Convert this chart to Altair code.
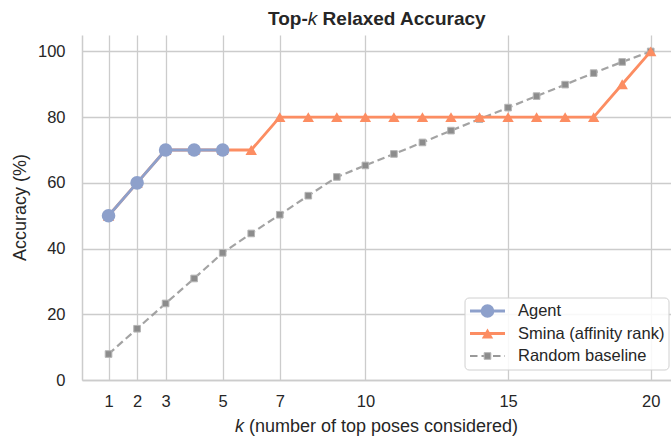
import altair as alt
import pandas as pd

# ---------------- data ----------------
K = list(range(1, 21))
AGENT_K = [1, 2, 3, 4, 5]
AGENT_ACC = [50, 60, 70, 70, 70]
SMINA_ACC = [50, 60, 70, 70, 70, 70, 80, 80, 80, 80, 80, 80, 80, 80, 80, 80, 80, 80, 90, 100]
RANDOM_ACC = [7.9, 15.6, 23.3, 30.9, 38.7, 44.6, 50.3, 56.1, 61.8, 65.3,
              68.8, 72.3, 75.9, 79.4, 82.9, 86.4, 89.9, 93.4, 96.8, 100]
X_TICKS = [1, 2, 3, 5, 7, 10, 15, 20]
Y_TICKS = [0, 20, 40, 60, 80, 100]
SERIES = ["Agent", "Smina (affinity rank)", "Random baseline"]
TITLE_PARTS = ["Top-", "k", "Relaxed Accuracy"]
XTITLE_PARTS = ["k", "(number of top poses considered)"]

# ---------------- style ----------------
FONT = "Liberation Sans, Arial, Helvetica, sans-serif"
TXT = "#262626"
GRID = "#cccccc"
C_AGENT = "#8DA0CB"
C_SMINA = "#FC8D62"
C_RAND = "#999999"
W, H = 589, 345

agent_df = pd.DataFrame({"k": AGENT_K, "acc": AGENT_ACC})
smina_df = pd.DataFrame({"k": K, "acc": SMINA_ACC})
rand_df = pd.DataFrame({"k": K, "acc": RANDOM_ACC})

xs = alt.Scale(domain=[0.07, 20.71], nice=False, zero=False)
ys = alt.Scale(domain=[0, 105], nice=False, zero=False)

X = alt.X("k:Q", scale=xs, axis=alt.Axis(
    values=X_TICKS, title=None, grid=True, gridColor=GRID, gridWidth=1.3,
    domainColor=GRID, domainWidth=1.5, ticks=False, labelPadding=13,
    labelFontSize=16.5, labelColor=TXT, labelFont=FONT, labelFlush=False))
Y = alt.Y("acc:Q", scale=ys, axis=alt.Axis(
    values=Y_TICKS, title="Accuracy (%)", grid=True, gridColor=GRID, gridWidth=1.3,
    domainColor=GRID, domainWidth=1.5, ticks=False, labelPadding=17,
    labelFontSize=16.5, labelColor=TXT, labelFont=FONT, labelFlush=False,
    titleFontSize=18, titleFont=FONT, titleColor=TXT, titleFontWeight="normal",
    titleX=-62, titleY=172, titleAngle=270, titleAlign="center", titleBaseline="middle"))

rand_line = alt.Chart(rand_df).mark_line(strokeWidth=2.2, strokeDash=[7.5, 4], opacity=0.9).encode(
    x=X, y=Y, color=alt.value(C_RAND))
rand_pts = alt.Chart(rand_df).mark_point(filled=True, shape="square", size=44, opacity=1,
                                         stroke="#b5b5b5", strokeWidth=1).encode(
    x=X, y=Y, fill=alt.value("#8c8c8c"))
smina_line = alt.Chart(smina_df).mark_line(strokeWidth=2.8).encode(x=X, y=Y, color=alt.value(C_SMINA))
smina_pts = alt.Chart(smina_df).mark_point(filled=True, shape="triangle-up", size=130, opacity=1).encode(
    x=X, y=Y, color=alt.value(C_SMINA))
agent_line = alt.Chart(agent_df).mark_line(strokeWidth=2.8).encode(x=X, y=Y, color=alt.value(C_AGENT))
agent_pts = alt.Chart(agent_df).mark_point(filled=True, shape="circle", size=185, opacity=1).encode(
    x=X, y=Y, color=alt.value(C_AGENT))

layers = [rand_line, rand_pts, smina_line, smina_pts, agent_line, agent_pts]

# ---------------- title (with italic k) ----------------
TFS = 19
title_specs = [
    (TITLE_PARTS[0], 225.8, "right", "bold", "normal"),
    (TITLE_PARTS[1], 225.8, "left", "normal", "italic"),
    (TITLE_PARTS[2], 240.6, "left", "bold", "normal"),
]
for txt, xp, al, fw, fs in title_specs:
    layers.append(alt.Chart(alt.Data(values=[{"t": txt}])).mark_text(
        align=al, baseline="alphabetic", fontSize=TFS, font=FONT, fontWeight=fw,
        fontStyle=fs, color=TXT).encode(x=alt.value(xp), y=alt.value(-10), text="t:N"))

# x axis title with italic k
xt_specs = [
    (XTITLE_PARTS[0], 152.9, "italic"),
    (XTITLE_PARTS[1], 166.9, "normal"),
]
for txt, xp, fs in xt_specs:
    layers.append(alt.Chart(alt.Data(values=[{"t": txt}])).mark_text(
        align="left", baseline="alphabetic", fontSize=18, font=FONT,
        fontStyle=fs, color=TXT).encode(x=alt.value(xp), y=alt.value(397), text="t:N"))

# ---------------- legend ----------------
layers.append(alt.Chart(alt.Data(values=[{"t": "legend"}])).mark_rect(
    fill="white", fillOpacity=0.85, stroke="#d0d0d0", strokeWidth=1, cornerRadius=4).encode(
    x=alt.value(383), x2=alt.value(587), y=alt.value(263), y2=alt.value(335)))

leg_rows = [
    (SERIES[0], 276, C_AGENT, "circle", 185, None, 2.8),
    (SERIES[1], 298.5, C_SMINA, "triangle-up", 130, None, 2.8),
    (SERIES[2], 321, C_RAND, "square", 44, [7.5, 4], 2.2),
]
for lab, ry, col, shp, sz, dash, sw in leg_rows:
    d = alt.Data(values=[{"t": lab}])
    rule_kw = dict(strokeWidth=sw, color=col)
    if dash:
        rule_kw["strokeDash"] = dash
    layers.append(alt.Chart(d).mark_rule(**rule_kw).encode(
        x=alt.value(388), x2=alt.value(423), y=alt.value(ry)))
    pt_kw = dict(filled=True, shape=shp, size=sz, opacity=1)
    if shp == "square":
        pt_kw.update(stroke="#b5b5b5", strokeWidth=1, fill="#8c8c8c")
    else:
        pt_kw.update(fill=col)
    layers.append(alt.Chart(d).mark_point(**pt_kw).encode(x=alt.value(405.5), y=alt.value(ry)))
    layers.append(alt.Chart(d).mark_text(align="left", baseline="middle", fontSize=16.5,
                                         font=FONT, color=TXT).encode(
        x=alt.value(436), y=alt.value(ry), text="t:N"))

chart = alt.layer(*layers).properties(
    width=W, height=H,
    autosize=alt.AutoSizeParams(type="none"),
    padding={"left": 82, "top": 35, "right": 0, "bottom": 56},
    background="white",
).configure_view(stroke=None)

chart.save("out.html", embed_options={"renderer": "svg", "actions": False})
